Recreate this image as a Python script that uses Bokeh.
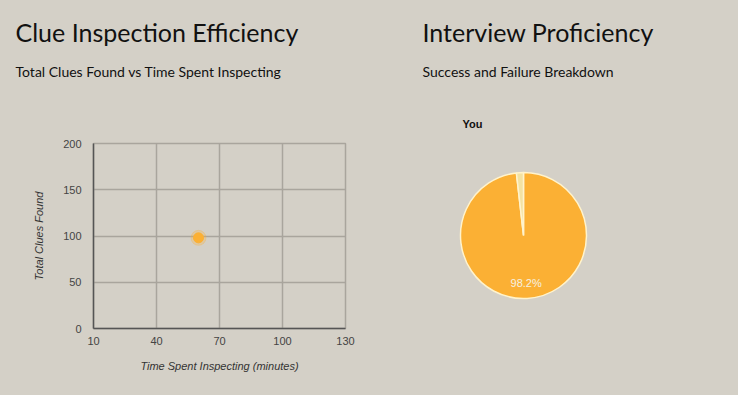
import math
from bokeh.plotting import figure
from bokeh.layouts import row, column
from bokeh.models import Range1d, FixedTicker
from bokeh.core.properties import value
from bokeh.embed import file_html
from bokeh.resources import INLINE

# ---- data ----
time_spent = [60]
clues_found = [98]
x_ticks = [10, 40, 70, 100, 130]
y_ticks = [0, 50, 100, 150, 200]
pie_labels = ["Success", "Failure"]
pie_values = [98.2, 1.8]
pie_colors = ["#fbb034", "#f3e2a2"]

BG = "#d4d0c7"
TITLE_FONT = "Lato"
AX_FONT = "Liberation Sans"
W1, H = 377, 395
W2 = 361
HT = 105  # height of the left title strip
TITLE_Y = 31.5   # from top
SUB_Y = 70.8     # from top


def text_fig(w, h):
    f = figure(width=w, height=h, x_range=Range1d(0, w), y_range=Range1d(0, h),
               output_backend="svg", toolbar_location=None,
               x_axis_type=None, y_axis_type=None, min_border=0)
    f.grid.visible = False
    f.outline_line_color = None
    f.background_fill_color = BG
    f.border_fill_color = BG
    return f


# ---- left: titles ----
t1 = text_fig(W1, HT)
t1.text(x=[15], y=[HT - TITLE_Y], text=["Clue Inspection Efficiency"], text_font=value(TITLE_FONT),
        text_font_size="25px", text_color="#111111", text_baseline="middle")
t1.text(x=[15], y=[HT - SUB_Y], text=["Total Clues Found vs Time Spent Inspecting"],
        text_font=value(TITLE_FONT), text_font_size="14px", text_color="#111111",
        text_baseline="middle")

# ---- left: scatter ----
p1 = figure(width=W1, height=H - HT, x_range=Range1d(10, 130), y_range=Range1d(0, 200),
            output_backend="svg", toolbar_location=None,
            min_border_left=93, min_border_right=32, min_border_top=143 - HT, min_border_bottom=67)
p1.background_fill_color = BG
p1.border_fill_color = BG
p1.outline_line_color = "#a9a59d"
p1.outline_line_width = 1.5
p1.scatter(time_spent, clues_found, size=15, color="#fbb034", alpha=0.25)
p1.scatter(time_spent, clues_found, size=10, color="#fbb034")

for ax, ticks in ((p1.xaxis[0], x_ticks), (p1.yaxis[0], y_ticks)):
    ax.ticker = FixedTicker(ticks=ticks)
    ax.major_tick_line_color = None
    ax.minor_tick_line_color = None
    ax.axis_line_color = "#555555"
    ax.axis_line_width = 1.5
    ax.major_label_text_font = AX_FONT
    ax.major_label_text_font_size = "11px"
    ax.major_label_text_color = "#444444"
    ax.axis_label_text_font = AX_FONT
    ax.axis_label_text_font_size = "11px"
    ax.axis_label_text_font_style = "italic"
    ax.axis_label_text_color = "#333333"
p1.xaxis.axis_label = "Time Spent Inspecting (minutes)"
p1.yaxis.axis_label = "Total Clues Found"
p1.xaxis.major_label_standoff = 2
p1.xaxis.axis_label_standoff = 12
p1.yaxis.major_label_standoff = 6
p1.yaxis.axis_label_standoff = 15
p1.xgrid.ticker = FixedTicker(ticks=x_ticks)
p1.ygrid.ticker = FixedTicker(ticks=y_ticks)
p1.grid.grid_line_color = "#a9a59d"
p1.grid.grid_line_width = 1.5

# ---- right: pie ----
p2 = text_fig(W2, H)
p2.text(x=[45], y=[H - TITLE_Y], text=["Interview Proficiency"], text_font=value(TITLE_FONT),
        text_font_size="25px", text_color="#111111", text_baseline="middle")
p2.text(x=[45], y=[H - SUB_Y], text=["Success and Failure Breakdown"], text_font=value(TITLE_FONT),
        text_font_size="14px", text_color="#111111", text_baseline="middle")
p2.text(x=[85], y=[H - 123], text=["You"], text_font=value(AX_FONT), text_font_style="bold",
        text_font_size="11px", text_color="#111111", text_baseline="middle")

cx, cy, r = 146, H - 235, 63
total = sum(pie_values)
starts, ends = [], []
a = math.pi / 2
for v in pie_values:
    starts.append(a)
    a = a - v / total * 2 * math.pi
    ends.append(a)
p2.wedge(x=[cx] * len(pie_values), y=[cy] * len(pie_values), radius=r,
         start_angle=starts, end_angle=ends, direction="clock",
         fill_color=pie_colors, line_color="#fff3cc", line_width=1.5)
mid = (starts[0] + ends[0]) / 2
lx = cx + 0.75 * r * math.cos(mid)
ly = cy + 0.75 * r * math.sin(mid)
p2.text(x=[lx], y=[ly], text=["%.1f%%" % (pie_values[0] / total * 100)], text_font=value(AX_FONT),
        text_font_size="11px", text_color="#f6f0e0", text_align="center", text_baseline="middle")

inner = column(p1, styles={"background-color": BG})
left = column(t1, inner, styles={"background-color": BG})
layout = row(left, p2, styles={"background-color": BG})
html = file_html(layout, INLINE)
html = html.replace("<head>", "<head><style>html, body { background-color: %s !important; }</style>" % BG, 1)
open("out.html", "w").write(html)
